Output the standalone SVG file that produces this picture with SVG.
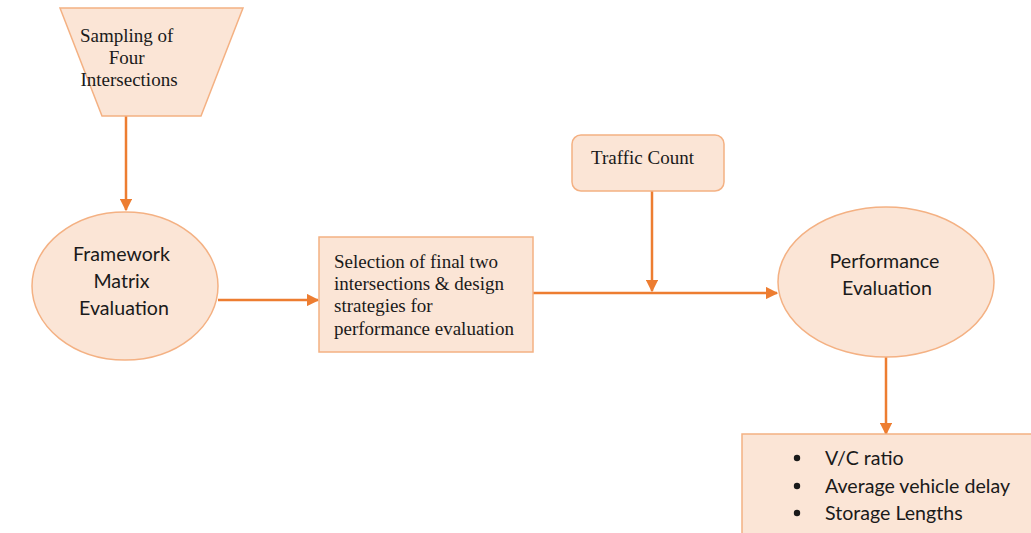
<svg xmlns="http://www.w3.org/2000/svg" width="1031" height="533" viewBox="0 0 1031 533">
  <defs>
    <marker id="arrow" viewBox="0 0 10 10" refX="9" refY="5" markerWidth="5" markerHeight="5" markerUnits="strokeWidth" orient="auto">
      <path d="M0,0 L10,5 L0,10 z" fill="#ED7D31"/>
    </marker>
    <style>
      .shape { fill: #FBE5D6; stroke: #F4B183; stroke-width: 1.5; }
      .serif { font-family: "Liberation Serif", "Times New Roman", serif; font-size: 19px; fill: #1a1a1a; }
      .sans { font-family: Lato, "Noto Sans", sans-serif; font-size: 19.6px; fill: #1a1a1a; }
      .link { stroke: #ED7D31; stroke-width: 2.5; fill: none; marker-end: url(#arrow); }
    </style>
  </defs>

  <rect width="1031" height="533" fill="#ffffff"/>

  <!-- connectors -->
  <g id="connectors">
    <line class="link" x1="126" y1="116" x2="126" y2="210"/>
    <line class="link" x1="218" y1="300" x2="318" y2="300"/>
    <line class="link" x1="533" y1="293" x2="777" y2="293"/>
    <line class="link" x1="652" y1="191" x2="652" y2="291"/>
    <line class="link" x1="886" y1="357" x2="886" y2="434"/>
  </g>

  <!-- sampling step (input trapezoid) -->
  <g id="sampling">
    <polygon class="shape" points="60,8 243,8 201,116 102,116"/>
    <text class="serif" text-anchor="middle">
      <tspan x="129" y="42">Sampling of</tspan>
      <tspan x="129" y="64">Four</tspan>
      <tspan x="129" y="86">Intersections</tspan>
    </text>
  </g>

  <!-- framework matrix evaluation -->
  <g id="framework">
    <ellipse class="shape" cx="125" cy="286" rx="93" ry="74"/>
    <text class="sans" text-anchor="middle">
      <tspan x="124" y="261">Framework</tspan>
      <tspan x="124" y="288">Matrix</tspan>
      <tspan x="124" y="315">Evaluation</tspan>
    </text>
  </g>

  <!-- selection of final intersections -->
  <g id="selection">
    <rect class="shape" x="319" y="237" width="214" height="115"/>
    <text class="serif">
      <tspan x="334" y="268">Selection of final two</tspan>
      <tspan x="334" y="290">intersections &amp; design</tspan>
      <tspan x="334" y="312">strategies for</tspan>
      <tspan x="334" y="335">performance evaluation</tspan>
    </text>
  </g>

  <!-- traffic count input -->
  <g id="traffic-count">
    <rect class="shape" x="572" y="135" width="152" height="56" rx="9" ry="9"/>
    <text class="serif" x="591" y="164">Traffic Count</text>
  </g>

  <!-- performance evaluation -->
  <g id="performance">
    <ellipse class="shape" cx="886" cy="282" rx="108" ry="75"/>
    <text class="sans" text-anchor="middle">
      <tspan x="887" y="268">Performance</tspan>
      <tspan x="887" y="295">Evaluation</tspan>
    </text>
  </g>

  <!-- output measures -->
  <g id="measures">
    <rect class="shape" x="742" y="434" width="295" height="105"/>
    <g fill="#1a1a1a">
      <circle cx="797" cy="458" r="3.2"/>
      <circle cx="797" cy="486" r="3.2"/>
      <circle cx="797" cy="513" r="3.2"/>
    </g>
    <text class="sans">
      <tspan x="825" y="465">V/C ratio</tspan>
      <tspan x="825" y="493">Average vehicle delay</tspan>
      <tspan x="825" y="520">Storage Lengths</tspan>
    </text>
  </g>
</svg>
